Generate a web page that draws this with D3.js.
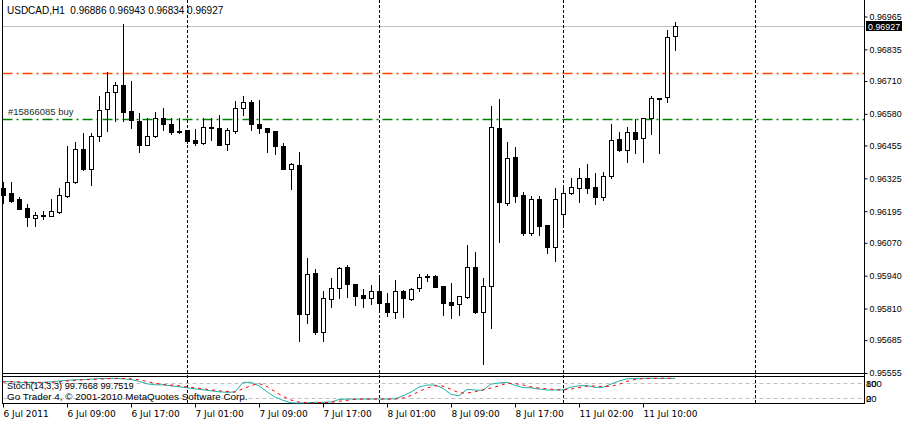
<!DOCTYPE html>
<html><head><meta charset="utf-8">
<script src="https://cdn.jsdelivr.net/npm/d3@7"></script>
<style>
html,body{margin:0;padding:0;background:#fff;overflow:hidden}
svg text{font-family:"Liberation Sans",Arial,sans-serif;font-size:9.5px;fill:#000;white-space:pre}
</style>
</head><body>
<svg id="chart" width="902" height="421"></svg>
<script>
const symbolTitle = "USDCAD,H1";
const opens  = [0.96288,0.96267,0.96244,0.96209,0.96168,0.96179,0.96175,0.96193,0.96256,0.96309,0.96440,0.96361,0.96491,0.96598,0.96665,0.96694,0.96590,0.96552,0.96456,0.96491,0.96562,0.96539,0.96512,0.96515,0.96475,0.96463,0.96528,0.96523,0.96460,0.96511,0.96602,0.96628,0.96540,0.96523,0.96512,0.96452,0.96363,0.96378,0.95787,0.95949,0.95718,0.95846,0.95890,0.95974,0.95906,0.95864,0.95853,0.95878,0.95831,0.95797,0.95880,0.95849,0.95890,0.95939,0.95939,0.95900,0.95836,0.95827,0.95857,0.95974,0.95797,0.95898,0.96523,0.96226,0.96408,0.96258,0.96110,0.96242,0.96139,0.96052,0.96183,0.96266,0.96285,0.96325,0.96289,0.96250,0.96333,0.96480,0.96436,0.96508,0.96483,0.96562,0.96643,0.96645,0.96886];
const highs  = [0.96309,0.96309,0.96250,0.96223,0.96193,0.96197,0.96242,0.96285,0.96453,0.96470,0.96503,0.96505,0.96651,0.96744,0.96705,0.96934,0.96711,0.96584,0.96565,0.96588,0.96603,0.96562,0.96562,0.96517,0.96520,0.96562,0.96562,0.96574,0.96523,0.96630,0.96651,0.96635,0.96634,0.96524,0.96513,0.96463,0.96386,0.96428,0.96010,0.95965,0.95879,0.95931,0.95973,0.95982,0.95907,0.95887,0.95903,0.95930,0.95871,0.95923,0.95883,0.95890,0.95947,0.95946,0.95941,0.95901,0.95910,0.95858,0.96061,0.96034,0.95930,0.96611,0.96639,0.96467,0.96448,0.96271,0.96255,0.96255,0.96140,0.96285,0.96292,0.96325,0.96365,0.96382,0.96345,0.96349,0.96539,0.96507,0.96528,0.96561,0.96563,0.96651,0.96644,0.96912,0.96943];
const lows   = [0.96226,0.96232,0.96202,0.96135,0.96138,0.96163,0.96174,0.96189,0.96252,0.96308,0.96358,0.96299,0.96473,0.96513,0.96553,0.96553,0.96523,0.96428,0.96455,0.96490,0.96515,0.96499,0.96503,0.96463,0.96456,0.96462,0.96475,0.96455,0.96436,0.96503,0.96574,0.96517,0.96503,0.96428,0.96420,0.96362,0.96282,0.95683,0.95754,0.95708,0.95683,0.95817,0.95853,0.95857,0.95825,0.95817,0.95829,0.95804,0.95782,0.95774,0.95778,0.95845,0.95879,0.95920,0.95894,0.95784,0.95774,0.95784,0.95853,0.95791,0.95589,0.95732,0.96074,0.96221,0.96230,0.96102,0.96102,0.96102,0.96031,0.95999,0.96134,0.96262,0.96232,0.96266,0.96222,0.96238,0.96325,0.96434,0.96391,0.96426,0.96391,0.96499,0.96426,0.96628,0.96834];
const closes = [0.96259,0.96236,0.96205,0.96171,0.96180,0.96177,0.96196,0.96259,0.96309,0.96440,0.96362,0.96491,0.96594,0.96665,0.96693,0.96588,0.96554,0.96456,0.96491,0.96562,0.96539,0.96507,0.96507,0.96473,0.96463,0.96527,0.96523,0.96456,0.96515,0.96602,0.96626,0.96539,0.96523,0.96507,0.96452,0.96363,0.96380,0.95787,0.95945,0.95718,0.95850,0.95890,0.95972,0.95906,0.95861,0.95853,0.95878,0.95833,0.95797,0.95878,0.95850,0.95889,0.95935,0.95934,0.95896,0.95833,0.95825,0.95858,0.95974,0.95797,0.95898,0.96527,0.96230,0.96404,0.96256,0.96110,0.96242,0.96138,0.96052,0.96242,0.96266,0.96289,0.96325,0.96288,0.96250,0.96333,0.96475,0.96438,0.96507,0.96482,0.96562,0.96641,0.96637,0.96883,0.96927];

const stochMain   = [88,86,84,83,83,84,86,89,92,94,95,97,99,99,100,98,95,88,78,74,74,70,66,62,58,54,50,46,44,45,84,84,70,46,25,12,2,1,2,4,4,5,15,17,17,17,17,17,17,18,30,45,65,73,73,60,36,30,56,53,52,77,81,84,72,63,62,57,53,53,54,65,70,71,64,64,77,89,98,99,100,100,99.8,99.9,99.7668];
const stochSignal = [85,87,86,85,84,83,84,86,89,92,94,95,97,98,99,99,98,94,87,80,75,73,70,66,62,58,54,50,47,45,58,71,79,67,47,28,13,5,2,2,3,4,8,12,16,17,17,17,17,17,21,31,47,61,70,69,56,42,41,46,54,61,70,80,79,73,66,61,58,55,53,57,63,69,69,67,68,76,88,95,99,100,100,99.9,99.7519];
const stochLevels = [80, 20];
const stochAxisLabels = ["100","80","20","0"];
const stochTitle = "Stoch(14,3,3) 99.7668 99.7519";
const copyrightText = "Go Trader 4, \u00A9 2001-2010 MetaQuotes Software Corp.";

const priceTicks = [0.96965,0.96835,0.96710,0.96580,0.96455,0.96325,0.96195,0.96070,0.95940,0.95810,0.95685,0.95555];
const timeLabels = ["6 Jul 2011","6 Jul 09:00","6 Jul 17:00","7 Jul 01:00","7 Jul 09:00","7 Jul 17:00","8 Jul 01:00","8 Jul 09:00","8 Jul 17:00","11 Jul 02:00","11 Jul 10:00"];
const timeLabelBars = [0,8,16,24,32,40,48,56,64,72,80];
const separatorBars = [23,47,70,94];
const orangeLevel = 0.96743;
const buyLevel = 0.96561;
const buyLabel = "#15866085 buy";

const svg = d3.select("#chart");
const n = closes.length;
const x = d3.scaleLinear().domain([0, n-1]).range([3, 675]);
const y = d3.scaleLinear().domain([0.95555, 0.96965]).range([373, 16.5]);
const ys = d3.scaleLinear().domain([0, 100]).range([403.3, 378.3]);
const snap = v => Math.round(v) + 0.5;
const fmt = d3.format(".5f");

const paneL = 2.5, paneR = 864.5;

// bid line and order levels (behind candles)
svg.append("line").attr("x1", paneL).attr("x2", paneR)
  .attr("y1", snap(y(closes[n-1]))).attr("y2", snap(y(closes[n-1])))
  .attr("stroke", "#c0c0c0").attr("stroke-width", 1);
[[orangeLevel, "#ff4500"], [buyLevel, "#008000"]].forEach(([lv, col]) => {
  svg.append("line").attr("x1", paneL).attr("x2", paneR)
    .attr("y1", Math.round(y(lv)) + 0.5).attr("y2", Math.round(y(lv)) + 0.5)
    .style("stroke", col).style("stroke-width", "1.5px").style("stroke-dasharray", "10,4,2,4");
});

// day separators
separatorBars.forEach(b => {
  svg.append("line").attr("x1", snap(x(b))).attr("x2", snap(x(b)))
    .attr("y1", 0).attr("y2", 403)
    .attr("stroke", "#000").attr("stroke-width", 1).attr("stroke-dasharray", "3,2");
});

// candles
const g = svg.append("g");
d3.range(n).forEach(i => {
  const cx = Math.round(x(i));
  const o = opens[i], c = closes[i];
  g.append("line").attr("x1", cx + 0.5).attr("x2", cx + 0.5)
    .attr("y1", Math.round(y(highs[i]))).attr("y2", Math.round(y(lows[i])) + 1)
    .attr("stroke", "#000").attr("stroke-width", 1);
  const top = Math.round(y(Math.max(o, c)));
  const bot = Math.round(y(Math.min(o, c)));
  const h = Math.max(bot - top, 1);
  g.append("rect").attr("x", cx - 1.5).attr("y", top + 0.5)
    .attr("width", 4).attr("height", h)
    .attr("fill", c > o ? "#fff" : "#000")
    .attr("stroke", "#000").attr("stroke-width", 1);
});

// pane frames
const frame = (x1,y1,x2,y2) => svg.append("line").attr("x1",x1).attr("y1",y1).attr("x2",x2).attr("y2",y2).attr("stroke","#000").attr("stroke-width",1);
frame(paneL, 0, paneL, 404);
frame(paneR, 0, paneR, 404);
frame(paneL, 373.5, paneR, 373.5);
frame(paneL, 376.5, paneR, 376.5);
frame(paneL, 403.5, paneR, 403.5);

// price axis
const yAxis = d3.axisRight(y).tickValues(priceTicks).tickFormat(fmt).tickSize(3).tickPadding(2);
const ya = svg.append("g").attr("transform", `translate(${paneR},0)`).call(yAxis);
ya.select(".domain").remove();
ya.selectAll(".tick line").attr("stroke", "#000");
ya.selectAll("text").style("font-family", '"Liberation Sans",Arial,sans-serif').style("font-size", "8.9px").attr("fill", "#000");

// current price box
const cy = y(closes[n-1]);
svg.append("rect").attr("x", 866).attr("y", Math.round(cy) - 5).attr("width", 36).attr("height", 10).attr("fill", "#000");
svg.append("text").attr("x", 868).attr("y", Math.round(cy) + 3.5).style("fill", "#fff").style("font-size", "8.9px").text(fmt(closes[n-1]));

// header & order label
svg.append("text").attr("x", 7).attr("y", 14).style("font-size", "10px")
  .text(`${symbolTitle}  ${fmt(opens[n-1])} ${fmt(highs[n-1])} ${fmt(lows[n-1])} ${fmt(closes[n-1])}`);
svg.append("text").attr("x", 8).attr("y", 115).style("fill", "#1e2e1e").text(buyLabel);

// stochastic pane
stochLevels.forEach(v => {
  svg.append("line").attr("x1", paneL + 1).attr("x2", paneR)
    .attr("y1", snap(ys(v))).attr("y2", snap(ys(v)))
    .attr("stroke", "#c0c0c0").attr("stroke-width", 1).attr("stroke-dasharray", "4,3");
});
const sLine = d3.line().x((d, i) => x(i)).y(d => ys(d));
svg.append("path").datum(stochMain).attr("d", sLine)
  .attr("fill", "none").attr("stroke", "#20b2aa").attr("stroke-width", 1);
svg.append("path").datum(stochSignal).attr("d", sLine)
  .attr("fill", "none").attr("stroke", "#ff0000").attr("stroke-width", 1).attr("stroke-dasharray", "3,4");
svg.append("text").attr("x", 7).attr("y", 389).style("font-size", "9.2px").text(stochTitle);
svg.append("text").attr("x", 7).attr("y", 400).style("font-size", "9.9px").text(copyrightText);

// stochastic axis labels (squeezed pane: labels overlap as in the original)
const stochLabelPos = [ys(80), ys(80), ys(20), ys(20)];
stochAxisLabels.forEach((t, k) => {
  svg.append("text").attr("x", 866).attr("y", stochLabelPos[k] + 3.5).text(t);
});

// time axis
const xAxis = d3.axisBottom(x).tickValues(timeLabelBars)
  .tickFormat((d, k) => timeLabels[k]).tickSize(4).tickPadding(3);
const xa = svg.append("g").attr("transform", "translate(0,403.5)").call(xAxis);
xa.select(".domain").remove();
xa.selectAll(".tick line").attr("stroke", "#000");
xa.selectAll("text").attr("text-anchor", "start").attr("x", 0)
  .style("font-family", '"DejaVu Sans",sans-serif').style("font-size", "9px").attr("fill", "#000");
</script>
</body></html>
